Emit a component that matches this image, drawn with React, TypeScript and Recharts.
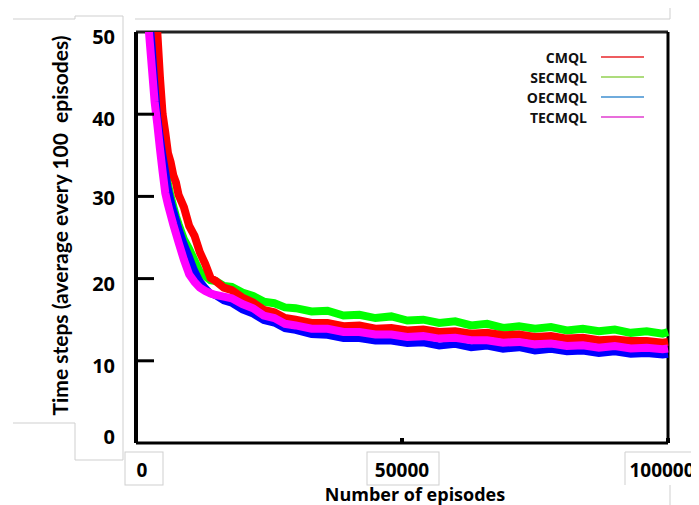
import React from 'react';
import { LineChart, Line, XAxis, YAxis, Legend, ReferenceLine } from 'recharts';

const episodes = [1500, 2000, 2500, 3000, 3500, 4000, 4500, 5000, 5500, 6000, 6500, 7000, 7500, 8000, 9000, 10000, 11000, 12000, 13000, 14000, 15000, 16500, 18000, 20000, 22000, 24000, 26000, 28000, 30000, 33000, 36000, 39000, 42000, 45000, 48000, 51000, 54000, 57000, 60000, 63000, 66000, 69000, 72000, 75000, 78000, 81000, 84000, 87000, 90000, 93000, 96000, 99000, 100000];

const cmql = [70, 64, 60, 56, 53, 50, 44.5, 40, 37.8, 35.3, 34.2, 32.6, 31.7, 30.2, 28.7, 26.4, 25.2, 23.2, 21.8, 20.1, 19.7, 18.9, 18.6, 17.7, 17.1, 16.2, 15.9, 15.2, 15.0, 14.6, 14.6, 14.2, 14.3, 13.9, 14.0, 13.7, 13.8, 13.5, 13.6, 13.3, 13.4, 13.1, 13.2, 12.9, 13.0, 12.7, 12.8, 12.5, 12.6, 12.4, 12.4, 12.2, 12.3];
const secmql = [62, 56, 52, 48.5, 44.5, 40.5, 38, 35.5, 33.5, 31.5, 30, 28.8, 27.6, 26.6, 24.8, 23.6, 22.2, 20.8, 20.3, 19.8, 19.7, 19.1, 19.0, 18.3, 17.9, 17.2, 17.0, 16.5, 16.4, 16.0, 16.1, 15.5, 15.6, 15.2, 15.4, 14.9, 15.0, 14.6, 14.8, 14.3, 14.5, 14.0, 14.2, 13.9, 14.1, 13.7, 13.9, 13.6, 13.8, 13.4, 13.6, 13.3, 13.5];
const oecmql = [62, 56, 52, 48.5, 44, 40, 37.5, 35.2, 33.3, 31.2, 29.7, 28.4, 27.3, 26.2, 24.3, 22.7, 21.0, 19.7, 18.9, 18.2, 17.9, 17.3, 17.0, 16.2, 15.7, 14.9, 14.6, 13.9, 13.7, 13.2, 13.1, 12.7, 12.7, 12.4, 12.4, 12.1, 12.2, 11.8, 12.0, 11.6, 11.8, 11.4, 11.6, 11.2, 11.4, 11.1, 11.2, 10.9, 11.1, 10.8, 10.9, 10.7, 10.8];
const tecmql = [60, 54, 49.5, 45.5, 41.5, 38.8, 35.8, 33, 30.4, 29.0, 27.8, 26.6, 25.5, 24.4, 22.3, 20.5, 19.6, 18.9, 18.5, 18.2, 18.0, 17.8, 17.6, 16.9, 16.4, 15.5, 15.2, 14.5, 14.3, 13.9, 13.9, 13.5, 13.5, 13.2, 13.2, 12.9, 13.0, 12.7, 12.8, 12.5, 12.5, 12.2, 12.3, 12.0, 12.1, 11.8, 11.9, 11.6, 11.8, 11.5, 11.6, 11.4, 11.5];

const xTicks = [0, 50000, 100000];
const yTicks = [0, 10, 20, 30, 40, 50];

const seriesNames = ['CMQL', 'SECMQL', 'OECMQL', 'TECMQL'];
const plotColors = ['#ff0000', '#00ff00', '#0000ff', '#ff00ff'];
const legendColors = ['#e8262b', '#92d050', '#3f8fd0', '#e03ccf'];

const data = episodes.map((ep, i) => ({
  ep,
  CMQL: cmql[i],
  SECMQL: secmql[i],
  OECMQL: oecmql[i],
  TECMQL: tecmql[i],
}));

const FONT = '"Open Sans", sans-serif';
const LFONT = 'Lato, sans-serif';

const YTick = (props: any) => {
  const { x, y, payload } = props;
  const v = payload.value;
  const axisX = x + 21;
  const dy = v === 0 ? 1 : v === 30 ? 9 : 12;
  return (
    <g>
      {v > 0 && v < 50 && (
        <line x1={axisX} x2={axisX + 18} y1={y} y2={y} stroke="#000" strokeWidth={3} />
      )}
      <text x={x} y={y + dy} textAnchor="end" fontFamily={FONT} fontWeight={700} fontSize={20} fill="#000">
        {v}
      </text>
    </g>
  );
};

const XTick = (props: any) => {
  const { x, y, payload } = props;
  const v = payload.value;
  const shift = v === 0 ? 6 : v === 100000 ? -6 : 0;
  return (
    <g>
      {v > 0 && <line x1={x} x2={x} y1={y} y2={y - 5} stroke="#000" strokeWidth={4} />}
      <text x={x + shift} y={y + 34} textAnchor="middle" fontFamily={FONT} fontWeight={700} fontSize={19} fill="#000">
        {v}
      </text>
    </g>
  );
};

const LegendContent = () => (
  <div style={{ fontFamily: FONT, fontWeight: 700, fontSize: 14, color: '#111' }}>
    {seriesNames.map((n, i) => (
      <div key={n} style={{ display: 'flex', alignItems: 'center', justifyContent: 'flex-end', height: 20 }}>
        <span>{n}</span>
        <svg width={57} height={6} style={{ marginLeft: 14 }}>
          <line x1={0} x2={43} y1={3} y2={3} stroke={legendColors[i]} strokeWidth={1.6} />
        </svg>
      </div>
    ))}
  </div>
);

export default function App() {
  return (
    <div style={{ position: 'relative', width: 691, height: 497 }}>
      <svg width={691} height={497} style={{ position: 'absolute', left: 0, top: 0 }}>
        <g stroke="#cfcfcf" strokeWidth={1} fill="none">
          <polyline points="5,11 67,11 67,8 115,8 115,452" />
          <polyline points="5,415 67,415 67,452 115,452" />
          <polyline points="127,11 662,11 662,-5" />
          <rect x={117} y={444} width={38} height={33} />
          <rect x={359} y={444} width={72} height={33} />
          <polyline points="617,477 617,444 691,444" />
          <polyline points="662,477 662,497" />
        </g>
      </svg>
      <div style={{ position: 'absolute', left: 0, top: 0 }}>
        <LineChart width={691} height={497} data={data} margin={{ top: 24, right: 31, left: 0, bottom: 0 }}>
          <XAxis
            dataKey="ep"
            type="number"
            domain={[0, 100000]}
            ticks={xTicks}
            tickSize={0}
            tickMargin={0}
            height={62}
            tick={<XTick />}
            axisLine={{ stroke: '#000', strokeWidth: 3 }}
            tickLine={false}
            interval={0}
            label={{
              content: (p: any) => {
                const vb = p.viewBox;
                return (
                  <text x={vb.x + vb.width / 2 + 13} y={vb.y + 58} textAnchor="middle" fontFamily={FONT} fontWeight={700} fontSize={18} fill="#000">
                    Number of episodes
                  </text>
                );
              },
            }}
          />
          <YAxis
            type="number"
            domain={[0, 50]}
            ticks={yTicks}
            allowDataOverflow
            width={128}
            tickSize={0}
            tickMargin={21}
            tick={<YTick />}
            axisLine={{ stroke: '#000', strokeWidth: 4 }}
            tickLine={false}
            interval={0}
            label={{
              content: (p: any) => {
                const vb = p.viewBox;
                const cx = vb.x + 52;
                const cy = vb.y + vb.height / 2 - 12;
                return (
                  <text x={cx} y={cy} transform={`rotate(-90 ${cx} ${cy})`} textAnchor="middle" dominantBaseline="central" fontFamily={LFONT} fontWeight={700} fontSize={20} textLength={380} lengthAdjust="spacingAndGlyphs" fill="#000">
                    {'Time steps (average every 100\u00a0 episodes)'}
                  </text>
                );
              },
            }}
          />
          <ReferenceLine y={50} stroke="#222" strokeWidth={3} />
          <ReferenceLine x={100000} stroke="#000" strokeWidth={3} />
          <Line dataKey="SECMQL" stroke={plotColors[1]} strokeWidth={8} dot={false} isAnimationActive={false} type="linear" />
          <Line dataKey="CMQL" stroke={plotColors[0]} strokeWidth={8} dot={false} isAnimationActive={false} type="linear" />
          <Line dataKey="OECMQL" stroke={plotColors[2]} strokeWidth={7} dot={false} isAnimationActive={false} type="linear" />
          <Line dataKey="TECMQL" stroke={plotColors[3]} strokeWidth={8} dot={false} isAnimationActive={false} type="linear" />
          <Legend
            layout="horizontal"
            verticalAlign="middle"
            align="center"
            content={<LegendContent />}
            wrapperStyle={{ position: 'absolute', top: 39, left: 470, width: 180, height: 80 }}
          />
        </LineChart>
      </div>
    </div>
  );
}
